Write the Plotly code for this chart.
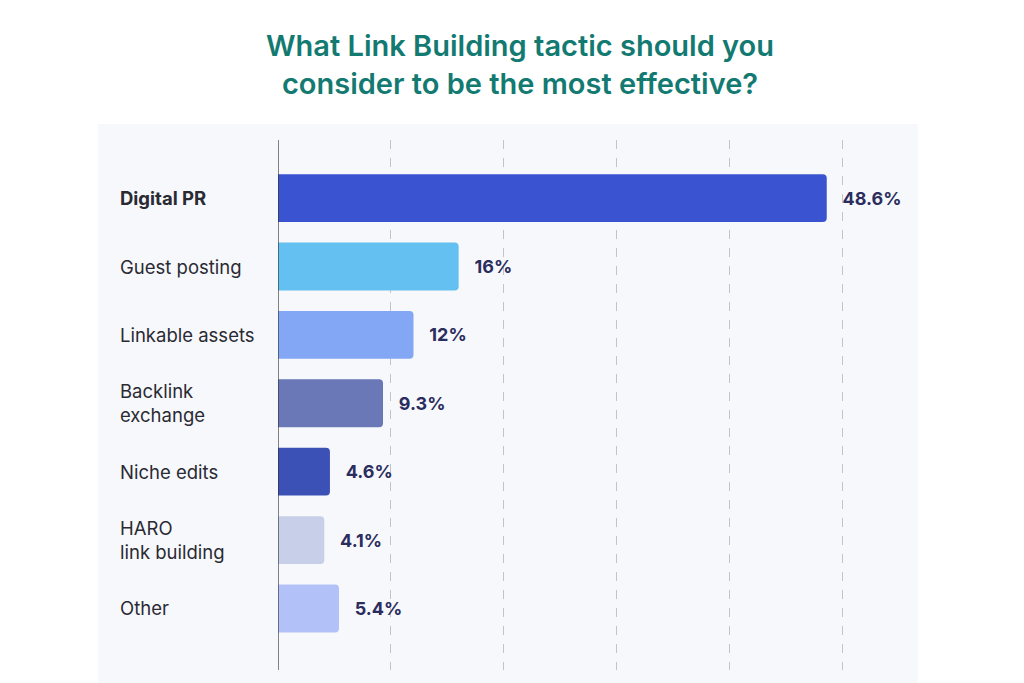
import plotly.graph_objects as go

categories = ["Digital PR", "Guest posting", "Linkable assets", "Backlink<br>exchange",
              "Niche edits", "HARO<br>link building", "Other"]
values = [48.6, 16, 12, 9.3, 4.6, 4.1, 5.4]
value_labels = ["   48.6%", "   16%", "   12%", "   9.3%", "   4.6%", "   4.1%", "   5.4%"]
colors = ["#3a53d0", "#63c0f0", "#84a7f5", "#6a78b8", "#3c51b5", "#c8cfe8", "#b3c1f9"]
grid_ticks = [10, 20, 30, 40, 50]

pos = list(range(len(categories)))
fig = go.Figure()
fig.add_trace(go.Bar(
    x=values, y=pos, orientation="h", marker=dict(color=colors, cornerradius=4, line=dict(width=0)),
    width=0.7, text=value_labels, textposition="outside", cliponaxis=False,
    textfont=dict(family="Inter", size=18, color="#2a2d5e", weight="bold"), hoverinfo="skip"))

for i, c in enumerate(categories):
    fig.add_annotation(x=0.0, xref="paper", xshift=-160, xanchor="left", y=i, yref="y",
                       text=(f"<b>{c}</b>" if i == 0 else c), showarrow=False, align="left",
                       font=dict(family="Inter", size=18.5, color="#2a2a33"))

fig.add_shape(type="rect", xref="paper", yref="paper", x0=-0.29, x1=1.03, y0=-0.03, y1=1.03,
              fillcolor="#f7f8fb", line=dict(width=0), layer="below")

fig.update_layout(
    width=1024, height=683, paper_bgcolor="white", plot_bgcolor="rgba(0,0,0,0)",
    margin=dict(l=270, r=133, t=132, b=21), showlegend=False, bargap=0.3,
    title=dict(text="What Link Building tactic should you<br>consider to be the most effective?",
               x=0.5, xanchor="center", y=0.93, yanchor="top",
               font=dict(family="Inter", size=29, color="#137a72", weight=600)),
    xaxis=dict(range=[0, 55], tickvals=grid_ticks, showticklabels=False, showgrid=True,
               gridcolor="#c4c4c8", griddash="dash", gridwidth=1, zeroline=False,
               showline=False),
    yaxis=dict(range=[6.9, -0.85], showticklabels=False, showgrid=False, zeroline=False,
               showline=False),
)
fig.add_shape(type="line", xref="x", yref="paper", x0=0, x1=0, y0=0, y1=1,
              line=dict(color="#333333", width=1.2))
fig.write_html("out.html")
